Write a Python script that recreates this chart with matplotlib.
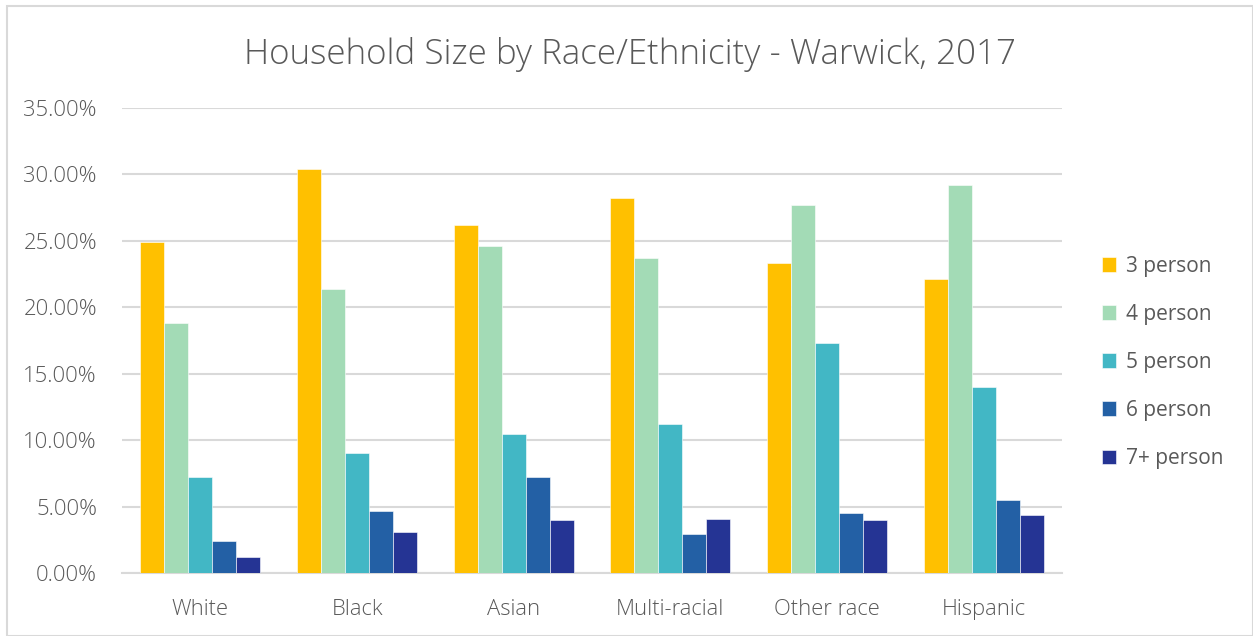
import matplotlib
matplotlib.use("Agg")
import matplotlib.pyplot as plt
import numpy as np
from matplotlib.patches import Rectangle

categories = ["White", "Black", "Asian", "Multi-racial", "Other race", "Hispanic"]
series_names = ["3 person", "4 person", "5 person", "6 person", "7+ person"]
p3 = [24.9, 30.4, 26.2, 28.2, 23.3, 22.1]
p4 = [18.8, 21.4, 24.6, 23.7, 27.7, 29.2]
p5 = [7.2, 9.0, 10.5, 11.2, 17.3, 14.0]
p6 = [2.4, 4.7, 7.2, 2.9, 4.5, 5.5]
p7 = [1.2, 3.1, 4.0, 4.1, 4.0, 4.4]
yticks = [0, 5, 10, 15, 20, 25, 30, 35]
colors = ["#FFC000", "#A3DBB6", "#42B7C5", "#2360A5", "#253494"]

plt.rcParams['font.family'] = ['Open Sans', 'DejaVu Sans']
W, H = 1253, 636
fig = plt.figure(figsize=(W/100, H/100), dpi=100)
ax = fig.add_axes([122/W, 1-573/H, (1062-122)/W, (573-108)/H])

series = [p3, p4, p5, p6, p7]
x = np.arange(len(categories))
bw = 0.153
for i, (vals, name) in enumerate(zip(series, series_names)):
    ax.bar(x + (i - 2) * bw, vals, width=bw, color=colors[i], label=name,
           edgecolor="white", linewidth=0.4, zorder=3)

ax.set_xlim(-0.5, len(categories) - 0.5)
ax.set_ylim(0, 35)
ax.set_yticks(yticks)
ax.set_yticklabels([f"{v:.2f}%" for v in yticks])
ax.set_xticks(x)
ax.set_xticklabels(categories)
ax.tick_params(axis='both', length=0, labelsize=15.8, colors="#595959", labelcolor="#595959")
ax.tick_params(axis='y', pad=18)
ax.tick_params(axis='x', pad=18.5)
for lab in ax.get_xticklabels() + ax.get_yticklabels():
    lab.set_fontweight('light')
ax.grid(axis='y', color="#D9D9D9", linewidth=1.5, zorder=0)
ax.set_axisbelow(True)
for s in ["top", "right", "left"]:
    ax.spines[s].set_visible(False)
ax.spines["bottom"].set_color("#D9D9D9")
ax.spines["bottom"].set_linewidth(1.5)

fig.text(630/W, 1-54.5/H, "Household Size by Race/Ethnicity - Warwick, 2017",
         ha="center", va="center", fontsize=25.2, color="#595959", fontweight='light')

leg = fig.legend(loc="upper left", bbox_to_anchor=(1083/W, 1-237/H), frameon=False,
                 fontsize=15, handlelength=0.7, handleheight=0.7, handletextpad=0.45,
                 labelspacing=1.3, labelcolor="#595959")

fig.patches.append(Rectangle((7/W, 0), (1253-7)/W, 1-6/H, transform=fig.transFigure,
                             fill=False, edgecolor="#D9D9D9", linewidth=1.5))

fig.savefig("out.png", dpi=100)
